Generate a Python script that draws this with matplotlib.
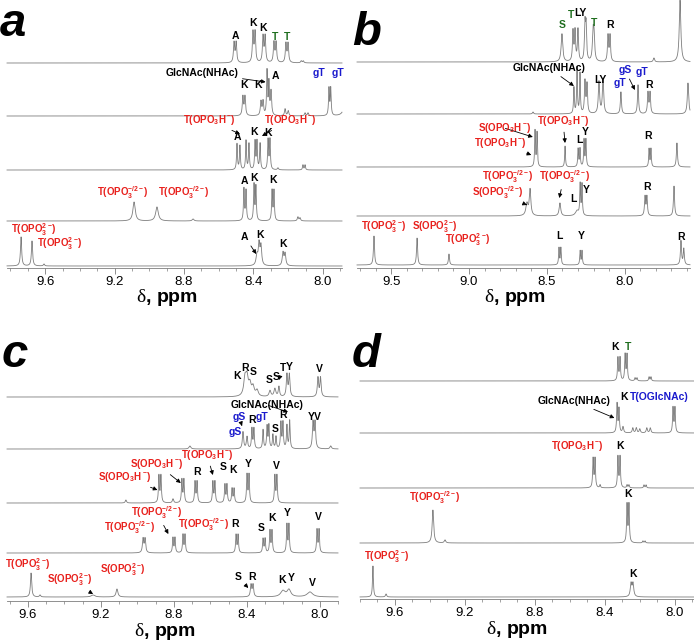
import numpy as np
import matplotlib.pyplot as plt
from matplotlib.ticker import MultipleLocator

plt.rcParams['font.family'] = ['Liberation Sans', 'DejaVu Sans']
plt.rcParams['mathtext.fontset'] = 'custom'
plt.rcParams['mathtext.bf'] = 'Liberation Sans:bold'
plt.rcParams['mathtext.rm'] = 'Liberation Serif'
plt.rcParams['mathtext.default'] = 'bf'

W, H = 694, 643

# peak lists: (ppm, intensity, half width), traces top to bottom
a1 = [(8.512, 20, .004), (8.500, 20, .004), (8.403, 30, .004), (8.391, 30, .004),
      (8.345, 26, .004), (8.333, 26, .004), (8.282, 20, .004), (8.270, 20, .004),
      (8.213, 19, .004), (8.201, 19, .004), (8.125, 2, .004), (8.113, 2, .004)]
a2 = [(8.461, 19, .004), (8.449, 19, .004), (8.357, 14, .004), (8.345, 14, .004),
      (8.322, 44, .003), (8.311, 32, .003), (8.299, 24, .004), (8.218, 7, .004),
      (8.200, 5, .004), (8.103, 3, .004), (8.086, 3, .004), (7.965, 27, .003),
      (7.955, 27, .003), (7.870, 14, .012)]
a3 = [(8.495, 26, .003), (8.478, 24, .003), (8.443, 29, .003), (8.426, 26, .003),
      (8.391, 28, .003), (8.380, 28, .003), (8.362, 26, .003), (8.316, 30, .003),
      (8.305, 30, .003), (8.259, 2, .004), (8.115, 5, .003), (8.103, 5, .003)]
a4 = [(9.088, 19, .008), (8.956, 14, .009), (8.748, 2, .006), (8.455, 32, .003),
      (8.443, 30, .003), (8.397, 36, .003), (8.386, 34, .003), (8.293, 30, .003),
      (8.282, 30, .003), (8.144, 4, .004), (8.132, 3, .004)]
a5 = [(9.739, 29, .004), (9.676, 25, .004), (9.607, 2, .004), (8.380, 10, .006),
      (8.368, 21, .005), (8.357, 19, .005), (8.230, 13, .005), (8.218, 12, .005)]

b1 = [(8.403, 28, .006), (8.332, 30, .004), (8.319, 30, .004), (8.300, 32, .004),
      (8.255, 36, .004), (8.248, 34, .004), (8.203, 26, .005), (8.197, 24, .005),
      (8.107, 26, .004), (8.094, 26, .004), (7.812, 4, .005), (7.644, 62, .006)]
b2 = [(8.589, 2, .004), (8.326, 26, .003), (8.306, 46, .003), (8.287, 40, .003),
      (8.255, 32, .004), (8.242, 29, .004), (8.165, 32, .005), (8.139, 34, .005),
      (8.024, 22, .004), (7.914, 29, .004), (7.850, 21, .004), (7.837, 21, .004),
      (7.593, 31, .005)]
b3 = [(8.576, 36, .003), (8.563, 34, .003), (8.383, 21, .003), (8.299, 18, .003),
      (8.287, 18, .003), (8.261, 27, .003), (8.249, 27, .003), (7.843, 18, .003),
      (7.831, 18, .003), (7.664, 24, .004)]
b4 = [(8.628, 12, .008), (8.608, 26, .006), (8.416, 13, .006), (8.306, 5, .012),
      (8.286, 31, .003), (8.274, 31, .003), (7.869, 19, .004), (7.857, 19, .004),
      (7.683, 30, .004)]
b5 = [(9.611, 29, .004), (9.334, 27, .004), (9.129, 11, .004), (8.422, 17, .003),
      (8.410, 17, .003), (8.286, 14, .003), (8.274, 14, .003), (7.638, 24, .004),
      (7.620, 16, .004)]

c1 = [(8.410, 17, .008), (8.399, 17, .008), (8.383, 11, .008), (8.366, 9, .008),
      (8.344, 6, .008), (8.273, 6, .006), (8.246, 8, .006), (8.224, 10, .004),
      (8.180, 22, .004), (8.167, 22, .004), (8.010, 19, .004), (7.996, 19, .004)]
c2 = [(8.712, 3, .006), (8.421, 17, .004), (8.399, 12, .004), (8.372, 20, .003),
      (8.361, 20, .003), (8.311, 19, .003), (8.289, 22, .003), (8.279, 23, .003),
      (8.257, 14, .003), (8.240, 12, .003), (8.213, 26, .003), (8.202, 26, .003),
      (8.180, 23, .003), (8.165, 28, .003), (8.037, 26, .004), (8.026, 26, .004),
      (7.940, 3, .005)]
c3 = [(9.063, 3, .004), (8.882, 27, .003), (8.871, 27, .003), (8.805, 4, .004),
      (8.756, 23, .003), (8.745, 23, .003), (8.684, 21, .003), (8.673, 21, .003),
      (8.586, 21, .003), (8.575, 21, .003), (8.520, 18, .003), (8.509, 18, .003),
      (8.481, 14, .003), (8.470, 14, .003), (8.399, 28, .003), (8.388, 28, .003),
      (8.246, 27, .003), (8.235, 27, .003)]
c4 = [(8.969, 14, .004), (8.958, 14, .004), (8.805, 15, .003), (8.794, 15, .003),
      (8.750, 18, .003), (8.739, 18, .003), (8.459, 18, .003), (8.448, 18, .003),
      (8.311, 14, .003), (8.300, 14, .003), (8.273, 22, .003), (8.262, 22, .003),
      (8.180, 28, .003), (8.169, 28, .003), (8.015, 23, .003), (8.004, 23, .003)]
c5 = [(9.583, 24, .004), (9.534, 2, .004), (9.243, 2, .012), (9.112, 8, .006),
      (8.377, 12, .004), (8.366, 12, .004), (8.202, 6, .015), (8.169, 7, .012),
      (8.054, 5, .018)]

d1 = [(8.325, 23, .003), (8.313, 23, .003), (8.284, 26, .003), (8.273, 26, .003),
      (8.227, 3, .003), (8.216, 3, .003), (8.147, 4, .003), (8.136, 4, .003)]
d2 = [(8.330, 29, .003), (8.319, 24, .003), (8.296, 6, .004), (8.240, 5, .004),
      (8.220, 5, .004), (8.200, 4, .004), (8.160, 5, .004), (8.140, 5, .004),
      (8.010, 25, .003), (7.999, 25, .003)]
d3 = [(8.467, 29, .003), (8.456, 29, .003), (8.427, 3, .003), (8.325, 31, .003),
      (8.313, 31, .003), (8.273, 3, .003), (8.262, 3, .003), (8.176, 3, .003),
      (8.164, 3, .003)]
d4 = [(9.383, 33, .005), (9.314, 3, .005), (8.273, 38, .003), (8.262, 38, .003),
      (8.182, 2, .003), (8.170, 2, .003)]
d5 = [(9.726, 31, .003), (9.651, 3, .004), (8.250, 13, .005), (8.239, 13, .005)]

RED, GRN, BLU, BLK = '#e8201c', '#1f6e1f', '#1a1acd', 'black'
tH = r'T(OPO$_3$H$^-\!$)'
sH = r'S(OPO$_3$H$^-\!$)'
tm = r'T(OPO$_3^{-/2-}\!$)'
sm = r'S(OPO$_3^{-/2-}\!$)'
t2 = r'T(OPO$_3^{2-}\!$)'
s2 = r'S(OPO$_3^{2-}\!$)'
glc = 'GlcNAc(NHAc)'

# (text, ppm, height, colour, arrow tip or None)
a_lab = [('A', 8.506, 232, BLK, None), ('K', 8.403, 245, BLK, None),
         ('K', 8.345, 240, BLK, None), ('T', 8.276, 231, GRN, None),
         ('T', 8.207, 231, GRN, None),
         (glc, 8.697, 195, BLK, (8.330, 186)), ('K', 8.455, 183, BLK, None),
         ('K', 8.374, 183, BLK, None), ('A', 8.276, 192, BLK, None),
         ('gT', 8.023, 195, BLU, None), ('gT', 7.913, 195, BLU, None),
         (tH, 8.656, 148, RED, (8.478, 134)), ('A', 8.495, 131, BLK, None),
         ('K', 8.397, 136, BLK, None), ('K', 8.316, 135, BLK, None),
         (tH, 8.190, 148, RED, (8.351, 132)),
         (tm, 9.157, 75, RED, None), (tm, 8.806, 75, RED, None),
         ('A', 8.449, 87, BLK, None), ('K', 8.397, 90, BLK, None),
         ('K', 8.288, 88, BLK, None),
         (t2, 9.670, 38, RED, None), (t2, 9.515, 24, RED, None),
         ('A', 8.449, 31, BLK, (8.384, 14)), ('K', 8.362, 33, BLK, None),
         ('K', 8.230, 24, BLK, None)]
b_lab = [('S', 8.403, 243, GRN, None), ('T', 8.345, 253, GRN, None),
         ('LY', 8.287, 255, BLK, None), ('T', 8.197, 245, GRN, None),
         ('R', 8.094, 243, BLK, None),
         (glc, 8.486, 200, BLK, (8.326, 182)), ('LY', 8.158, 188, BLK, None),
         ('gS', 7.998, 198, BLU, (7.934, 178)), ('gT', 8.030, 185, BLU, None),
         ('gT', 7.889, 196, BLU, None), ('R', 7.844, 183, BLK, None),
         (sH, 8.775, 140, RED, (8.590, 131)), (tH, 8.801, 125, RED, (8.600, 113)),
         (tH, 8.396, 147, RED, (8.383, 125)), ('L', 8.293, 128, BLK, None),
         ('Y', 8.255, 136, BLK, None), ('R', 7.850, 132, BLK, None),
         (tm, 8.756, 91, RED, None), (tm, 8.390, 91, RED, (8.420, 70)),
         (sm, 8.814, 75, RED, (8.628, 63)), ('L', 8.326, 69, BLK, None),
         ('Y', 8.248, 78, BLK, None), ('R', 7.856, 81, BLK, None),
         (t2, 9.547, 41, RED, None), (s2, 9.219, 41, RED, None),
         (t2, 9.013, 28, RED, None), ('L', 8.416, 32, BLK, None),
         ('Y', 8.280, 32, BLK, None), ('R', 7.638, 31, BLK, None)]
c_lab = [('K', 8.454, 225, BLK, None), ('R', 8.410, 233, BLK, None),
         ('S', 8.366, 229, BLK, None), ('S', 8.278, 221, BLK, None),
         ('S', 8.240, 224, BLK, None), ('T', 8.202, 233, BLK, (8.224, 221)),
         ('Y', 8.169, 234, BLK, None), ('V', 8.000, 232, BLK, None),
         (glc, 8.289, 196, BLK, (8.174, 189)), ('R', 8.202, 186, BLK, None),
         ('gS', 8.443, 184, BLU, (8.426, 175)), ('gS', 8.465, 169, BLU, None),
         ('R', 8.372, 181, BLK, None), ('gT', 8.317, 184, BLU, None),
         ('S', 8.246, 172, BLK, None), ('YV', 8.026, 184, BLK, None),
         (sH, 9.072, 124, RED, (8.890, 111)), (sH, 8.893, 137, RED, (8.762, 118)),
         (tH, 8.618, 146, RED, (8.586, 126)), ('R', 8.673, 129, BLK, None),
         ('S', 8.531, 134, BLK, None), ('K', 8.476, 131, BLK, None),
         ('Y', 8.394, 137, BLK, None), ('V', 8.240, 135, BLK, None),
         (tm, 9.041, 73, RED, None), (tm, 8.893, 88, RED, (8.830, 67)),
         (tm, 8.640, 76, RED, None), ('R', 8.465, 77, BLK, None),
         ('S', 8.322, 73, BLK, None), ('K', 8.262, 83, BLK, None),
         ('Y', 8.180, 88, BLK, None), ('V', 8.010, 84, BLK, None),
         (t2, 9.600, 36, RED, None), (s2, 9.370, 21, RED, (9.243, 7)),
         (s2, 9.079, 31, RED, None), ('S', 8.448, 24, BLK, (8.392, 13)),
         ('R', 8.372, 24, BLK, None), ('K', 8.207, 21, BLK, None),
         ('Y', 8.158, 23, BLK, None), ('V', 8.043, 18, BLK, None)]
d_lab = [('K', 8.342, 252, BLK, None), ('T', 8.267, 252, GRN, None),
         (glc, 8.576, 198, BLK, (8.345, 181)), ('K', 8.290, 202, BLK, None),
         ('T(OGlcNAc)', 8.090, 202, BLU, None),
         (tH, 8.559, 153, RED, None), ('K', 8.313, 153, BLK, None),
         (tm, 9.377, 101, RED, None), ('K', 8.267, 105, BLK, None),
         (t2, 9.646, 42, RED, None), ('K', 8.239, 25, BLK, None)]

fig = plt.figure(figsize=(W / 100, H / 100), dpi=100)


def panel(box, xlim, traces, offsets, labels, major, letter, lxy, xlab_x):
    l, t, r, b = box
    ax = fig.add_axes([l / W, 1 - b / H, (r - l) / W, (b - t) / H])
    ax.set_xlim(*xlim)
    ax.set_ylim(0, b - t)
    x = np.linspace(xlim[0], xlim[1], 4000)
    for peaks, off in zip(traces, offsets):
        y = np.full_like(x, float(off))
        for p, h, w in peaks:
            y += h * w ** 2 / ((x - p) ** 2 + w ** 2)
        ax.plot(x, y, color='#7d7d7d', lw=0.6, clip_on=False)
    for txt, p, yy, col, tip in labels:
        fs = 7 if col == RED else 7.5
        if tip is None:
            ax.text(p, yy, txt, color=col, fontsize=fs, fontweight='bold',
                    ha='center', va='center')
        else:
            ax.annotate(txt, xy=tip, xytext=(p, yy), color=col, fontsize=fs,
                        fontweight='bold', ha='center', va='center',
                        arrowprops=dict(arrowstyle='-|>', color='k', lw=0.6,
                                        mutation_scale=6, shrinkA=1, shrinkB=0))
    for s in ['top', 'left', 'right']:
        ax.spines[s].set_visible(False)
    ax.spines['bottom'].set_color('#7d7d7d')
    ax.spines['bottom'].set_linewidth(0.6)
    ax.set_yticks([])
    ax.set_xticks(major)
    ax.set_xticklabels(['%.1f' % v for v in major])
    ax.xaxis.set_minor_locator(MultipleLocator(0.1))
    ax.tick_params(axis='x', which='major', length=4, width=0.6, color='#7d7d7d',
                   labelsize=9.5, pad=2)
    ax.tick_params(axis='x', which='minor', length=2, width=0.5, color='#7d7d7d')
    ax.patch.set_alpha(0)
    fig.text(lxy[0] / W, 1 - lxy[1] / H, letter, fontsize=34, fontweight='bold',
             fontstyle='italic', ha='left', va='baseline')
    fig.text(xlab_x / W, 1 - (b + 30) / H, r'$\mathrm{\delta}$, ppm', fontsize=14,
             fontweight='bold', ha='center', va='center')
    return ax


panel((7, 0, 342, 268), (9.82, 7.89), [a1, a2, a3, a4, a5], [205, 152, 98, 47, 2],
      a_lab, [9.6, 9.2, 8.8, 8.4, 8.0], 'a', (0, 36), 167)
panel((357, 0, 690, 268), (9.72, 7.58), [b1, b2, b3, b4, b5], [206, 154, 101, 52, 3],
      b_lab, [9.5, 9.0, 8.5, 8.0], 'b', (352, 45), 515)
panel((7, 330, 338, 601), (9.715, 7.90), [c1, c2, c3, c4, c5], [204, 152, 98, 48, 4],
      c_lab, [9.6, 9.2, 8.8, 8.4, 8.0], 'c', (2, 367), 165)
panel((360, 330, 694, 599), (9.80, 7.89), [d1, d2, d3, d4, d5], [218, 166, 111, 56, 2],
      d_lab, [9.6, 9.2, 8.8, 8.4, 8.0], 'd', (352, 367), 517)

fig.savefig('out.png', dpi=100)
